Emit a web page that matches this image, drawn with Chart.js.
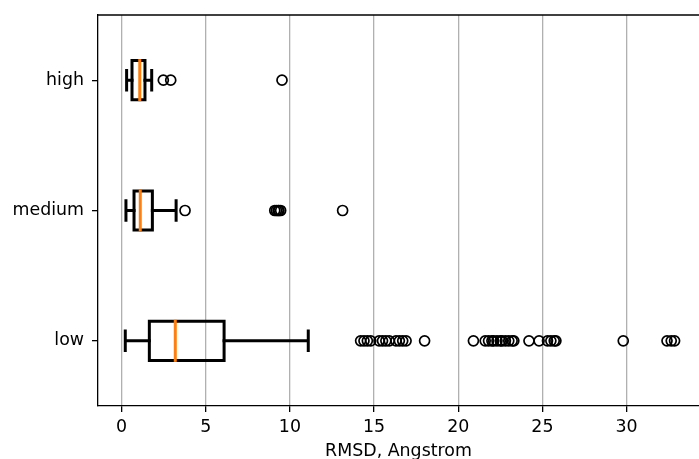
<!DOCTYPE html>
<html>
<head>
<meta charset="utf-8">
<script src="https://cdn.jsdelivr.net/npm/chart.js@4.4.0/dist/chart.umd.min.js"></script>
<style>
  html, body { margin: 0; padding: 0; background: #fff; overflow: hidden; }
  #wrap { width: 699px; height: 459px; }
</style>
</head>
<body>
<div id="wrap"><canvas id="boxChart" width="699" height="459"></canvas></div>
<script>
// categories (bottom to top) and their y positions
const categories = ['low', 'medium', 'high'];
const positions = [1, 2, 3];

// box statistics
const whiskerLow = [0.22, 0.26, 0.30];
const q1 = [1.65, 0.74, 0.62];
const median = [3.19, 1.11, 1.08];
const q3 = [6.09, 1.83, 1.39];
const whiskerHigh = [11.09, 3.24, 1.79];

// outliers (fliers)
const fliersLow = [14.2, 14.4, 14.6, 14.8, 15.3, 15.5, 15.7, 15.9, 16.3, 16.5, 16.7, 16.9,
    18.0, 20.9, 21.6, 21.8, 22.0, 22.1, 22.3, 22.5, 22.6, 22.8, 23.0, 23.2, 23.3,
    24.2, 24.8, 25.3, 25.5, 25.7, 25.8, 29.8, 32.4, 32.65, 32.85];
const fliersMedium = [3.77, 9.1, 9.2, 9.3, 9.35, 9.45, 13.13];
const fliersHigh = [2.48, 2.92, 9.53];

const xTicks = [0, 5, 10, 15, 20, 25, 30];

const boxWidth = 0.3;
const capWidth = 0.15;
const fontSpec = { family: 'DejaVu Sans', size: 17.4 };

const flierPoints = [];
[fliersLow, fliersMedium, fliersHigh].forEach((list, i) => {
    list.forEach(v => flierPoints.push({ x: v, y: positions[i] }));
});

// draws boxes, whiskers, caps and medians through the chart scales
const boxPlugin = {
    id: 'boxes',
    beforeDatasetsDraw(chart) {
        const ctx = chart.ctx;
        const xs = chart.scales.x;
        const ys = chart.scales.y;
        ctx.save();
        ctx.lineWidth = 3;
        ctx.strokeStyle = '#000';
        for (let i = 0; i < categories.length; i++) {
            const yc = ys.getPixelForValue(positions[i]);
            const yTop = ys.getPixelForValue(positions[i] + boxWidth / 2);
            const yBot = ys.getPixelForValue(positions[i] - boxWidth / 2);
            const cTop = ys.getPixelForValue(positions[i] + capWidth / 2);
            const cBot = ys.getPixelForValue(positions[i] - capWidth / 2);
            const xL = xs.getPixelForValue(q1[i]);
            const xR = xs.getPixelForValue(q3[i]);
            const wL = xs.getPixelForValue(whiskerLow[i]);
            const wH = xs.getPixelForValue(whiskerHigh[i]);
            const xm = xs.getPixelForValue(median[i]);

            // box
            ctx.lineJoin = 'miter';
            ctx.beginPath();
            ctx.rect(xL, yTop, xR - xL, yBot - yTop);
            ctx.stroke();

            // whiskers and caps
            ctx.lineCap = 'square';
            ctx.beginPath();
            ctx.moveTo(wL, yc); ctx.lineTo(xL, yc);
            ctx.moveTo(xR, yc); ctx.lineTo(wH, yc);
            ctx.moveTo(wL, cTop); ctx.lineTo(wL, cBot);
            ctx.moveTo(wH, cTop); ctx.lineTo(wH, cBot);
            ctx.stroke();

            // median
            ctx.strokeStyle = '#ff7f0e';
            ctx.beginPath();
            ctx.moveTo(xm, yTop); ctx.lineTo(xm, yBot);
            ctx.stroke();
            ctx.strokeStyle = '#000';
        }
        ctx.restore();
    },
    afterDraw(chart) {
        // top spine
        const ctx = chart.ctx;
        const a = chart.chartArea;
        ctx.save();
        ctx.strokeStyle = '#000';
        ctx.lineWidth = 1.3;
        ctx.beginPath();
        ctx.moveTo(a.left, a.top);
        ctx.lineTo(a.right, a.top);
        ctx.stroke();
        ctx.restore();
    }
};

new Chart(document.getElementById('boxChart'), {
    type: 'scatter',
    data: {
        datasets: [{
            data: flierPoints,
            pointStyle: 'circle',
            pointRadius: 5,
            pointHoverRadius: 5,
            borderWidth: 1.7,
            borderColor: '#000',
            backgroundColor: 'rgba(0,0,0,0)'
        }]
    },
    options: {
        responsive: false,
        animation: false,
        events: [],
        layout: { autoPadding: false, padding: { top: 15, right: 0, bottom: 0, left: 0 } },
        plugins: { legend: { display: false }, tooltip: { enabled: false } },
        scales: {
            x: {
                type: 'linear',
                min: -1.4,
                max: 34.3,
                afterBuildTicks: scale => { scale.ticks = xTicks.map(v => ({ value: v })); },
                afterFit: scale => {
                    scale.height = 53;
                    scale.paddingLeft = 0;
                    scale.paddingRight = 0;
                },
                grid: { color: '#b0b0b0', lineWidth: 1.3, tickColor: '#000', tickLength: 6, drawTicks: true },
                border: { display: true, color: '#000', width: 1.3 },
                ticks: { color: '#000', font: fontSpec, padding: 5, maxRotation: 0 },
                title: { display: true, text: 'RMSD, Angstrom', color: '#000', font: fontSpec, padding: { top: 0, bottom: -3 } }
            },
            y: {
                type: 'linear',
                min: 0.5,
                max: 3.5,
                afterBuildTicks: scale => { scale.ticks = positions.map(v => ({ value: v })); },
                afterFit: scale => {
                    scale.width = 98;
                    scale.paddingTop = 0;
                    scale.paddingBottom = 0;
                },
                grid: { drawOnChartArea: false, tickColor: '#000', tickLength: 6, lineWidth: 1.3 },
                border: { display: true, color: '#000', width: 1.3 },
                ticks: {
                    color: '#000',
                    font: fontSpec,
                    padding: 8,
                    callback: v => categories[positions.indexOf(v)]
                }
            }
        }
    },
    plugins: [boxPlugin]
});
</script>
</body>
</html>
